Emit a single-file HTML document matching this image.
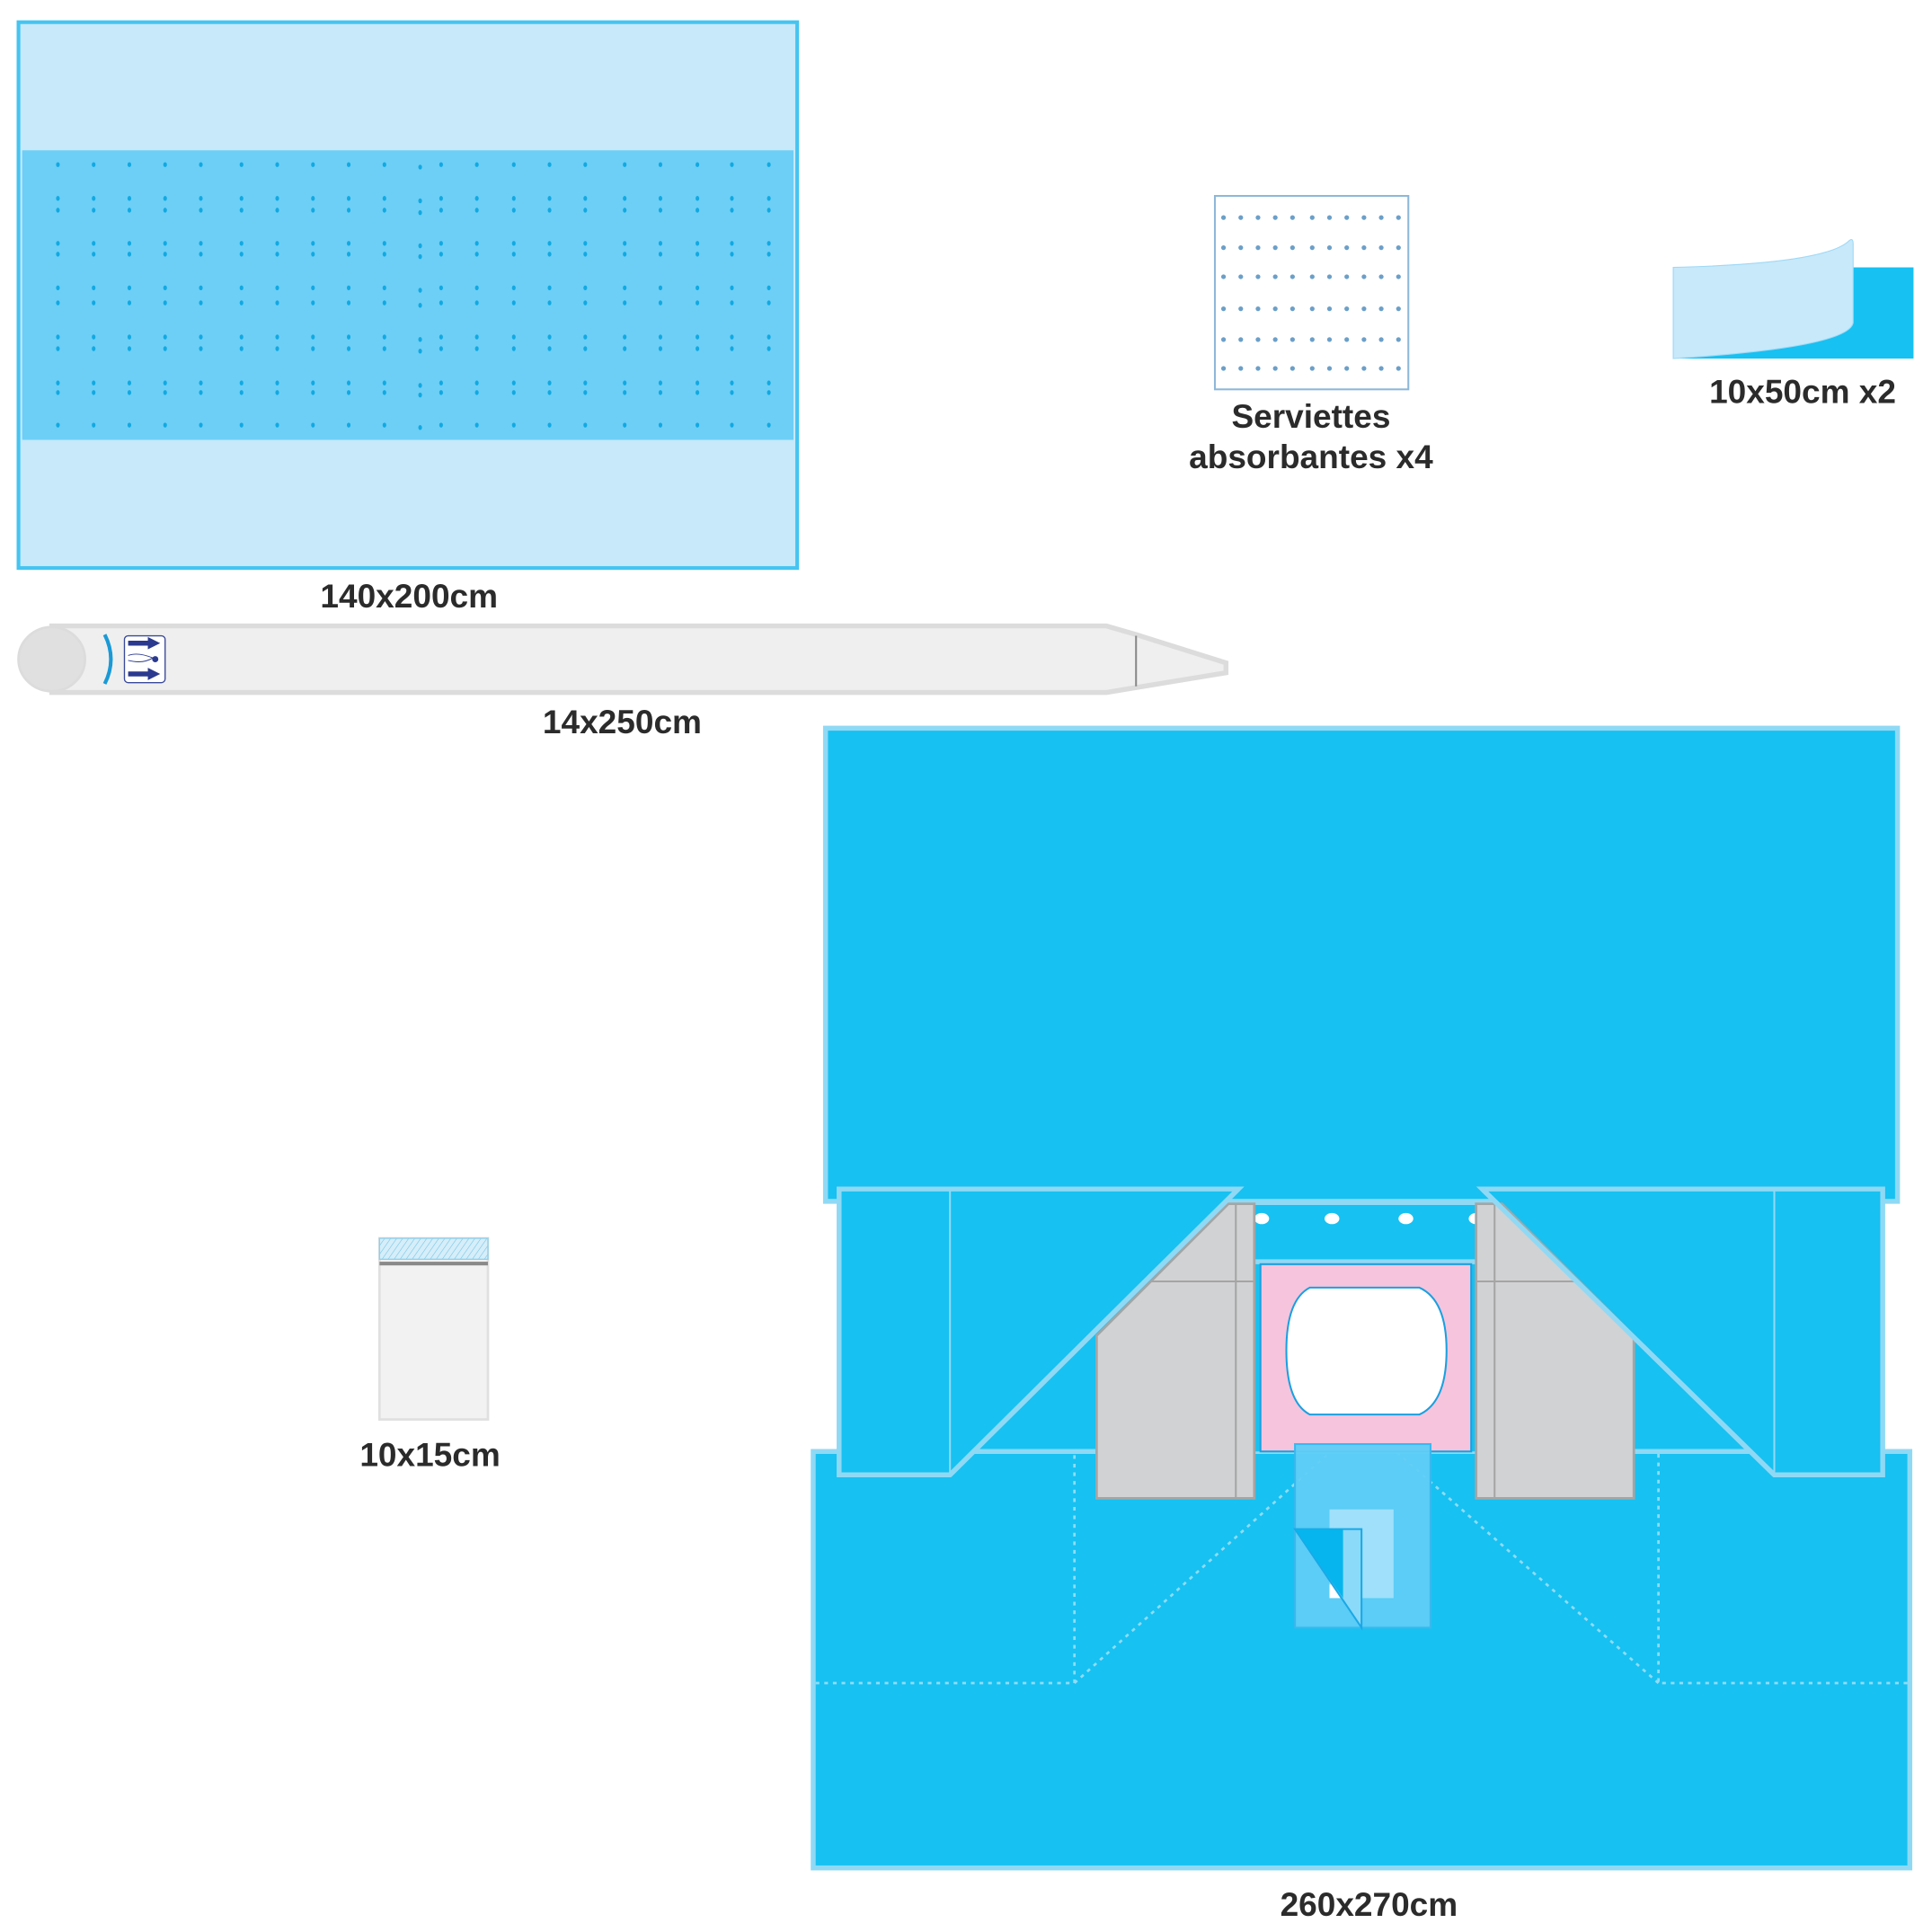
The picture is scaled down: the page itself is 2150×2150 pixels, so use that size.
<!DOCTYPE html>
<html><head><meta charset="utf-8"><style>html,body{margin:0;padding:0;background:#fff}svg{display:block}</style></head>
<body>
<svg width="2150" height="2150" viewBox="0 0 1568 1568" xmlns="http://www.w3.org/2000/svg">
<defs>
<pattern id="h" width="4" height="4" patternUnits="userSpaceOnUse" patternTransform="rotate(35)"><rect width="4" height="4" fill="#d6eef9"/><line x1="0" y1="0" x2="0" y2="4" stroke="#6cc3e6" stroke-width="0.8"/></pattern>
</defs>
<rect x="15" y="18" width="632" height="443" fill="#c7e9fa" stroke="#45c4f0" stroke-width="3"/>
<rect x="18" y="122" width="626" height="235" fill="#6dcff6"/>
<g fill="#11a9e2" id="dots"></g>
<text x="332" y="493" font-family="Liberation Sans, sans-serif" font-weight="bold" font-size="27" fill="#2b2b2b" text-anchor="middle">140x200cm</text>

<path d="M42,508 L898,508 L922,515 L995,538 L995,546 L922,558 L898,562 L42,562 Z" fill="#efefef" stroke="#dcdcdc" stroke-width="4"/>
<ellipse cx="42" cy="535" rx="27" ry="26" fill="#e0e0e0" stroke="#dcdcdc" stroke-width="2"/>
<line x1="922" y1="516" x2="922" y2="557" stroke="#888" stroke-width="1.5"/>
<path d="M85,515 Q95,535 85,555" fill="none" stroke="#1a9ad6" stroke-width="3"/>
<rect x="101" y="516" width="33" height="38" rx="3" fill="#fff" stroke="#3a4a9a" stroke-width="1"/>
<path d="M104,520 h16 v-3 l10,5 l-10,5 v-3 h-16 z" fill="#2b3a8f"/>
<path d="M104,545 h16 v-3 l10,5 l-10,5 v-3 h-16 z" fill="#2b3a8f"/>
<circle cx="126" cy="535" r="2.5" fill="#2b3a8f"/>
<path d="M104,532 q8,-3 20,2 q-8,5 -20,2" fill="none" stroke="#2b3a8f" stroke-width="0.7"/>
<text x="505" y="595" font-family="Liberation Sans, sans-serif" font-weight="bold" font-size="27" fill="#2b2b2b" text-anchor="middle">14x250cm</text>

<rect x="986" y="159" width="157" height="157" fill="#fff" stroke="#8db7da" stroke-width="1.5"/>
<g fill="#6b9fc8" id="sdots"></g>
<text x="1064" y="347" font-family="Liberation Sans, sans-serif" font-weight="bold" font-size="27" fill="#2b2b2b" text-anchor="middle">Serviettes</text>
<text x="1064" y="380" font-family="Liberation Sans, sans-serif" font-weight="bold" font-size="27" fill="#2b2b2b" text-anchor="middle">absorbantes x4</text>

<rect x="1358" y="217" width="195" height="74" fill="#17c1f1"/>
<path d="M1358,217 Q1480,214 1500,196 Q1504,192 1504,198 L1504,262 Q1500,282 1358,291 Z" fill="#c7e9fa" stroke="#9ed8f5" stroke-width="0.8"/>
<text x="1463" y="327" font-family="Liberation Sans, sans-serif" font-weight="bold" font-size="27" fill="#2b2b2b" text-anchor="middle">10x50cm x2</text>

<rect x="308" y="1005" width="88" height="147" fill="#f2f2f2" stroke="#e0e0e0" stroke-width="2"/>
<rect x="308" y="1005" width="88" height="17" fill="url(#h)" stroke="#8fd0ea" stroke-width="1"/>
<rect x="308" y="1024" width="88" height="3" fill="#8a8a8a"/>
<text x="349" y="1190" font-family="Liberation Sans, sans-serif" font-weight="bold" font-size="27" fill="#2b2b2b" text-anchor="middle">10x15cm</text>

<g stroke-linejoin="miter">
<rect x="681" y="965" width="847" height="232" fill="#17c1f1"/>
<rect x="670" y="591" width="870" height="384" fill="#17c1f1" stroke="#8fd9f5" stroke-width="4"/>
<rect x="660" y="1178" width="890" height="338" fill="#17c1f1" stroke="#8fd9f5" stroke-width="4"/>
<rect x="1005" y="975" width="198" height="203" fill="#17c1f1"/>
<line x1="1005" y1="976" x2="1203" y2="976" stroke="#8fd9f5" stroke-width="4"/>
<line x1="1018" y1="1024" x2="1198" y2="1024" stroke="#8fd9f5" stroke-width="4"/>
<g fill="#fff"><ellipse cx="1024" cy="989" rx="6" ry="4.5"/><ellipse cx="1081" cy="989" rx="6" ry="4.5"/><ellipse cx="1141" cy="989" rx="6" ry="4.5"/><ellipse cx="1198" cy="989" rx="6" ry="4.5"/></g>
<g fill="none" stroke="#8fdcf7" stroke-width="2" stroke-dasharray="3,4">
<path d="M662,1366 L872,1366 L872,1180"/>
<path d="M872,1366 L1080,1178"/>
<path d="M1548,1366 L1346,1366 L1346,1180"/>
<path d="M1346,1366 L1133,1178"/>
</g>
<path d="M681,965 L1005,965 L771,1197 L681,1197 Z" fill="#17c1f1" stroke="#8fd9f5" stroke-width="4"/>
<line x1="771" y1="966" x2="771" y2="1196" stroke="#8fd9f5" stroke-width="1.5"/>
<path d="M1203,965 L1528,965 L1528,1197 L1440,1197 Z" fill="#17c1f1" stroke="#8fd9f5" stroke-width="4"/>
<line x1="1440" y1="966" x2="1440" y2="1196" stroke="#8fd9f5" stroke-width="1.5"/>
<path d="M890,1216 L890,1084 L997,977 L1018,977 L1018,1216 Z" fill="#d1d2d4" stroke="#a5a5a5" stroke-width="2"/>
<line x1="1003" y1="978" x2="1003" y2="1215" stroke="#a5a5a5" stroke-width="1.5"/>
<line x1="933" y1="1040" x2="1018" y2="1040" stroke="#a5a5a5" stroke-width="1.5"/>
<path d="M1198,977 L1219,977 L1326,1084 L1326,1216 L1198,1216 Z" fill="#d1d2d4" stroke="#a5a5a5" stroke-width="2"/>
<line x1="1213" y1="978" x2="1213" y2="1215" stroke="#a5a5a5" stroke-width="1.5"/>
<line x1="1198" y1="1040" x2="1282" y2="1040" stroke="#a5a5a5" stroke-width="1.5"/>
<line x1="1005" y1="965" x2="771" y2="1197" stroke="#8fd9f5" stroke-width="4"/>
<line x1="1203" y1="965" x2="1440" y2="1197" stroke="#8fd9f5" stroke-width="4"/>
<rect x="1023" y="1026" width="171" height="152" fill="#f6c4dd" stroke="#1aa0e0" stroke-width="1.5"/>
<path d="M1063,1045 L1152,1045 Q1174,1055 1174,1096 Q1174,1138 1152,1148 L1063,1148 Q1044,1138 1044,1096 Q1044,1055 1063,1045 Z" fill="#fff" stroke="#1aa0e0" stroke-width="1.5"/>
<rect x="1051" y="1172" width="110" height="149" fill="#5fcdf6" fill-opacity="0.95" stroke="#3ab8ee" stroke-width="1.5"/>
<rect x="1079" y="1225" width="52" height="72" fill="#a0e0fa"/>
<rect x="1079" y="1286" width="11" height="11" fill="#fff"/>
<path d="M1051,1241 L1105,1241 L1105,1321 Z" fill="#8bdaf9" stroke="#1aa8e6" stroke-width="1.5"/>
<path d="M1051,1241 L1090,1241 L1090,1297 Z" fill="#06b5ee"/>
</g>
<text x="1111" y="1555" font-family="Liberation Sans, sans-serif" font-weight="bold" font-size="27" fill="#2b2b2b" text-anchor="middle">260x270cm</text>
<script>
(function(){
var ns="http://www.w3.org/2000/svg";
var g=document.getElementById("dots");
var xs=[47,76,105,134,163,196,225,254,283,312,358,387,417,446,475,507,536,566,594,624];
var ys=[133.6,161,170.6,197.5,206.3,233.6,245.8,273.5,283,310.8,318.6,345];
ys.forEach(function(y){xs.forEach(function(x){var e=document.createElementNS(ns,"ellipse");e.setAttribute("cx",x);e.setAttribute("cy",y);e.setAttribute("rx",1.5);e.setAttribute("ry",2);g.appendChild(e);});
var e=document.createElementNS(ns,"ellipse");e.setAttribute("cx",341);e.setAttribute("cy",y+2);e.setAttribute("rx",1.5);e.setAttribute("ry",2);g.appendChild(e);});
var s=document.getElementById("sdots");
var sx=[993,1007,1021,1035,1049,1065,1079,1093,1107,1121,1135];
var sy=[176.6,201,224.6,250.6,275.6,299];
sy.forEach(function(y){sx.forEach(function(x){var c=document.createElementNS(ns,"circle");c.setAttribute("cx",x);c.setAttribute("cy",y);c.setAttribute("r",1.9);s.appendChild(c);});});
})();
</script>
</svg>
</body></html>
